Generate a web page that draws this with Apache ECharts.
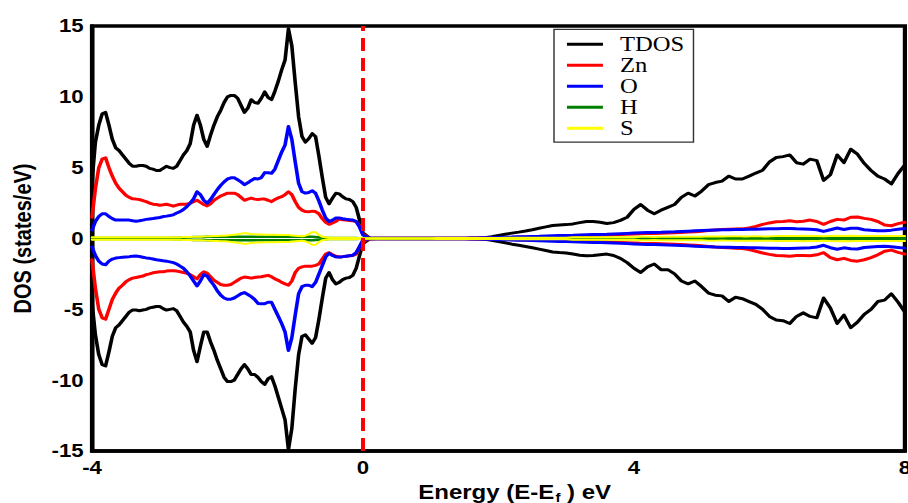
<!DOCTYPE html>
<html>
<head>
<meta charset="utf-8">
<script src="https://cdn.jsdelivr.net/npm/echarts/dist/echarts.min.js"></script>
<style>
  html, body { margin: 0; padding: 0; background: #fff; overflow: hidden; }
  #chart { position: absolute; left: 0; top: 0; height: 503px; transform-origin: 0 0; }
</style>
</head>
<body>
<div id="chart"></div>
<script>
// ---------------- data ----------------
const energies = [
  -4.00,-3.95,-3.90,-3.85,-3.80,-3.75,-3.70,-3.65,-3.60,-3.55,
  -3.50,-3.45,-3.40,-3.35,-3.30,-3.25,-3.20,-3.15,-3.10,-3.05,
  -3.00,-2.95,-2.90,-2.85,-2.80,-2.75,-2.70,-2.65,-2.60,-2.55,
  -2.50,-2.45,-2.40,-2.35,-2.30,-2.25,-2.20,-2.15,-2.10,-2.05,
  -2.00,-1.95,-1.90,-1.85,-1.80,-1.75,-1.70,-1.65,-1.60,-1.55,
  -1.50,-1.45,-1.40,-1.35,-1.30,-1.25,-1.20,-1.15,-1.10,-1.05,
  -1.00,-0.95,-0.90,-0.85,-0.80,-0.75,-0.70,-0.65,-0.60,-0.55,
  -0.50,-0.45,-0.40,-0.35,-0.30,-0.25,-0.20,-0.15,-0.10,-0.05,
  0.00,
  0.1,0.2,0.3,0.4,0.5,0.6,0.7,0.8,0.9,1.0,
  1.1,1.2,1.3,1.4,1.5,1.6,1.7,1.8,1.9,2.0,
  2.1,2.2,2.3,2.4,2.5,2.6,2.7,2.8,2.9,3.0,
  3.1,3.2,3.3,3.4,3.5,3.6,3.7,3.8,3.9,4.0,
  4.1,4.2,4.3,4.4,4.5,4.6,4.7,4.8,4.9,5.0,
  5.1,5.2,5.3,5.4,5.5,5.6,5.7,5.8,5.9,6.0,
  6.1,6.2,6.3,6.4,6.5,6.6,6.7,6.8,6.9,7.0,
  7.1,7.2,7.3,7.4,7.5,7.6,7.7,7.8,7.9,8.0
];

const tdosUp = [
  4.0,6.8,8.0,8.8,8.9,8.0,7.0,6.4,6.2,5.9,
  5.6,5.3,5.1,5.1,5.15,5.15,5.1,4.95,4.9,4.8,
  4.8,4.95,5.1,5.0,4.95,5.1,5.5,5.9,6.2,6.7,
  8.0,8.7,8.0,7.0,6.5,7.3,8.0,8.6,9.05,9.6,
  10.0,10.1,10.1,9.9,9.4,8.9,9.2,9.8,9.6,9.55,
  9.9,10.35,9.95,9.8,10.4,11.1,11.9,12.6,14.8,13.6,
  11.0,8.6,7.2,6.8,7.05,7.4,7.2,5.8,4.3,2.9,
  2.45,2.85,3.2,3.15,2.95,2.8,2.75,2.6,2.2,1.3,
  0.4,
  0.03,0.02,0.02,0.02,0.02,0.02,0.02,0.02,0.02,0.02,
  0.02,0.02,0.02,0.02,0.02,0.02,0.03,0.05,0.12,0.22,
  0.3,0.38,0.45,0.53,0.62,0.72,0.82,0.92,0.96,0.98,
  1.03,1.12,1.2,1.2,1.15,1.06,1.12,1.28,1.5,2.05,
  2.4,2.0,1.75,2.0,2.2,2.4,2.9,3.2,3.0,3.35,
  3.8,3.95,4.05,4.4,4.2,4.2,4.4,4.62,4.82,5.4,
  5.72,5.78,5.9,5.35,5.25,5.6,5.5,4.1,4.5,5.9,
  5.35,6.3,5.95,5.3,4.8,4.4,4.2,3.85,4.6,5.2
];
const tdosDown = [
  -4.5,-6.8,-8.2,-8.9,-9.0,-8.0,-6.9,-6.3,-6.1,-5.8,
  -5.5,-5.2,-5.05,-5.05,-5.1,-5.05,-5.0,-4.9,-4.85,-4.8,
  -4.8,-4.95,-5.05,-5.0,-4.95,-5.1,-5.5,-5.9,-6.2,-6.6,
  -7.9,-8.7,-7.6,-6.6,-6.6,-7.3,-7.9,-8.6,-9.2,-9.8,
  -10.1,-10.1,-10.0,-9.6,-9.2,-8.9,-9.2,-9.6,-9.6,-9.8,
  -10.1,-10.3,-9.9,-9.75,-10.4,-11.2,-12.0,-12.8,-14.9,-13.4,
  -10.6,-8.2,-6.9,-6.8,-7.1,-7.4,-7.0,-5.7,-4.2,-2.8,
  -2.4,-2.9,-3.2,-3.1,-2.9,-2.8,-2.75,-2.6,-2.1,-1.2,
  -0.35,
  -0.03,-0.02,-0.02,-0.02,-0.02,-0.02,-0.02,-0.02,-0.02,-0.02,
  -0.02,-0.02,-0.02,-0.02,-0.02,-0.02,-0.03,-0.06,-0.13,-0.22,
  -0.3,-0.4,-0.48,-0.56,-0.65,-0.75,-0.85,-0.95,-0.99,-1.02,
  -1.1,-1.18,-1.22,-1.2,-1.14,-1.1,-1.2,-1.4,-1.7,-2.1,
  -2.4,-2.0,-1.8,-2.2,-2.2,-2.5,-3.0,-3.2,-3.0,-3.4,
  -3.85,-4.0,-4.05,-4.45,-4.15,-4.25,-4.45,-4.65,-5.0,-5.5,
  -5.75,-5.8,-6.0,-5.5,-5.25,-5.5,-5.6,-4.2,-4.9,-6.0,
  -5.4,-6.3,-5.9,-5.35,-5.0,-4.45,-4.35,-3.9,-4.5,-5.2
];

const znUp = [
  1.5,3.5,5.0,5.6,5.7,5.0,4.4,3.9,3.55,3.3,
  3.05,2.9,2.8,2.78,2.75,2.68,2.6,2.5,2.42,2.4,
  2.35,2.38,2.42,2.35,2.28,2.35,2.42,2.42,2.42,2.5,
  2.6,2.7,2.55,2.4,2.3,2.45,2.7,2.85,3.0,3.1,
  3.2,3.2,3.2,3.1,2.9,2.7,2.78,2.85,2.78,2.75,
  2.78,2.78,2.7,2.6,2.75,2.87,2.95,3.1,3.3,3.1,
  2.6,2.2,2.0,1.9,1.88,1.93,1.9,1.75,1.4,1.15,
  1.0,1.1,1.2,1.38,1.32,1.3,1.27,1.25,1.2,0.9,
  0.3,
  0.02,0.02,0.02,0.02,0.02,0.02,0.02,0.02,0.02,0.02,
  0.02,0.02,0.02,0.02,0.02,0.03,0.03,0.04,0.05,0.05,
  0.06,0.08,0.09,0.1,0.11,0.12,0.13,0.15,0.16,0.17,
  0.18,0.2,0.21,0.22,0.23,0.24,0.26,0.28,0.3,0.32,
  0.34,0.35,0.36,0.37,0.38,0.4,0.42,0.45,0.48,0.52,
  0.56,0.6,0.63,0.65,0.67,0.68,0.75,0.85,1.0,1.1,
  1.18,1.2,1.25,1.18,1.22,1.3,1.2,1.0,1.2,1.35,
  1.3,1.5,1.52,1.42,1.35,1.2,0.95,0.9,1.05,1.15
];
const znDown = [
  -1.5,-3.5,-5.0,-5.6,-5.7,-5.0,-4.3,-3.85,-3.5,-3.3,
  -3.05,-2.9,-2.8,-2.75,-2.7,-2.65,-2.55,-2.5,-2.42,-2.38,
  -2.35,-2.35,-2.3,-2.28,-2.28,-2.3,-2.35,-2.4,-2.45,-2.55,
  -2.7,-2.85,-2.55,-2.35,-2.45,-2.7,-2.95,-3.1,-3.25,-3.3,
  -3.3,-3.25,-3.1,-2.95,-2.8,-2.72,-2.75,-2.8,-2.75,-2.72,
  -2.7,-2.65,-2.6,-2.7,-2.85,-2.95,-3.1,-3.2,-3.3,-3.0,
  -2.4,-2.1,-2.0,-1.95,-1.95,-1.95,-1.9,-1.8,-1.45,-1.1,
  -1.0,-1.15,-1.25,-1.3,-1.28,-1.25,-1.22,-1.2,-1.1,-0.6,
  -0.2,
  -0.02,-0.02,-0.02,-0.02,-0.02,-0.02,-0.02,-0.02,-0.02,-0.02,
  -0.02,-0.02,-0.02,-0.02,-0.02,-0.03,-0.03,-0.04,-0.05,-0.05,
  -0.06,-0.08,-0.09,-0.1,-0.11,-0.12,-0.13,-0.15,-0.16,-0.17,
  -0.18,-0.2,-0.21,-0.22,-0.23,-0.24,-0.26,-0.28,-0.3,-0.32,
  -0.34,-0.35,-0.36,-0.37,-0.38,-0.4,-0.42,-0.45,-0.48,-0.52,
  -0.56,-0.6,-0.63,-0.65,-0.68,-0.7,-0.78,-0.9,-1.02,-1.12,
  -1.2,-1.22,-1.25,-1.2,-1.2,-1.22,-1.15,-1.0,-1.35,-1.5,
  -1.4,-1.55,-1.6,-1.5,-1.35,-1.15,-0.9,-0.82,-0.98,-1.1
];

const oUp = [
  0.6,1.2,1.55,1.75,1.75,1.55,1.4,1.3,1.3,1.3,
  1.3,1.3,1.25,1.22,1.25,1.3,1.35,1.38,1.41,1.45,
  1.48,1.55,1.58,1.62,1.67,1.8,1.9,2.05,2.25,2.5,
  2.8,3.3,3.1,2.7,2.5,2.75,3.1,3.45,3.75,4.0,
  4.2,4.28,4.28,4.15,4.0,3.8,3.93,4.1,4.24,4.2,
  4.3,4.65,4.64,4.6,4.9,5.5,6.1,6.6,7.9,7.0,
  5.4,3.9,3.3,3.2,3.25,3.37,3.2,2.65,2.0,1.45,
  1.2,1.3,1.45,1.45,1.4,1.36,1.33,1.3,1.2,0.8,
  0.25,
  0.01,0.01,0.01,0.01,0.01,0.01,0.01,0.01,0.01,0.01,
  0.01,0.01,0.01,0.01,0.02,0.03,0.04,0.05,0.06,0.08,
  0.09,0.1,0.12,0.13,0.15,0.16,0.18,0.2,0.21,0.22,
  0.23,0.25,0.27,0.28,0.29,0.3,0.32,0.34,0.36,0.38,
  0.4,0.42,0.43,0.44,0.46,0.47,0.5,0.52,0.54,0.56,
  0.58,0.6,0.61,0.62,0.63,0.64,0.65,0.66,0.67,0.68,
  0.69,0.7,0.7,0.68,0.67,0.66,0.62,0.5,0.62,0.74,
  0.64,0.72,0.72,0.62,0.58,0.55,0.54,0.59,0.65,0.7
];
const oDown = [
  -0.6,-1.2,-1.6,-1.8,-1.85,-1.6,-1.45,-1.38,-1.35,-1.32,
  -1.3,-1.28,-1.25,-1.24,-1.27,-1.32,-1.37,-1.4,-1.45,-1.5,
  -1.53,-1.57,-1.6,-1.65,-1.7,-1.8,-1.95,-2.1,-2.35,-2.65,
  -3.0,-3.35,-3.0,-2.55,-2.65,-3.0,-3.3,-3.7,-4.0,-4.2,
  -4.29,-4.28,-4.2,-4.05,-3.9,-3.82,-3.95,-4.1,-4.3,-4.58,
  -4.6,-4.6,-4.5,-4.5,-5.0,-5.5,-6.0,-6.6,-7.9,-7.0,
  -5.4,-3.9,-3.4,-3.3,-3.3,-3.4,-3.1,-2.5,-1.9,-1.3,
  -1.05,-1.2,-1.3,-1.3,-1.28,-1.25,-1.22,-1.18,-1.0,-0.55,
  -0.1,
  -0.01,-0.01,-0.01,-0.01,-0.01,-0.01,-0.01,-0.01,-0.01,-0.01,
  -0.01,-0.01,-0.01,-0.01,-0.02,-0.03,-0.04,-0.05,-0.06,-0.08,
  -0.09,-0.1,-0.12,-0.13,-0.15,-0.16,-0.18,-0.2,-0.21,-0.22,
  -0.23,-0.25,-0.27,-0.28,-0.29,-0.3,-0.32,-0.34,-0.36,-0.38,
  -0.4,-0.42,-0.43,-0.44,-0.46,-0.47,-0.5,-0.52,-0.54,-0.56,
  -0.58,-0.6,-0.61,-0.62,-0.63,-0.64,-0.65,-0.66,-0.67,-0.68,
  -0.69,-0.7,-0.7,-0.68,-0.67,-0.66,-0.6,-0.48,-0.65,-0.76,
  -0.66,-0.72,-0.74,-0.64,-0.6,-0.56,-0.55,-0.58,-0.63,-0.68
];

const hUp = [
  0.03,0.03,0.03,0.03,0.03,0.03,0.03,0.03,0.03,0.03,
  0.03,0.03,0.03,0.03,0.03,0.03,0.03,0.03,0.03,0.03,
  0.03,0.03,0.04,0.04,0.05,0.05,0.06,0.07,0.08,0.09,
  0.1,0.11,0.11,0.11,0.12,0.12,0.12,0.12,0.13,0.13,
  0.13,0.13,0.13,0.13,0.13,0.13,0.13,0.13,0.13,0.13,
  0.13,0.13,0.13,0.13,0.13,0.13,0.13,0.13,0.13,0.13,
  0.12,0.12,0.12,0.12,0.12,0.12,0.1,0.08,0.06,0.05,
  0.04,0.04,0.04,0.04,0.04,0.04,0.04,0.04,0.03,0.02,
  0.01,
  0.01,0.01,0.01,0.01,0.01,0.01,0.01,0.01,0.01,0.01,
  0.01,0.01,0.01,0.01,0.01,0.01,0.01,0.01,0.01,0.01,
  0.02,0.02,0.02,0.02,0.02,0.02,0.02,0.02,0.02,0.02,
  0.03,0.03,0.03,0.03,0.03,0.03,0.03,0.03,0.03,0.03,
  0.04,0.04,0.04,0.04,0.04,0.04,0.04,0.04,0.04,0.04,
  0.05,0.05,0.05,0.05,0.05,0.05,0.05,0.05,0.05,0.05,
  0.06,0.06,0.06,0.06,0.06,0.06,0.06,0.06,0.06,0.06,
  0.06,0.06,0.06,0.06,0.06,0.06,0.06,0.06,0.06,0.06
];
const hDown = [
  -0.03,-0.03,-0.03,-0.03,-0.03,-0.03,-0.03,-0.03,-0.03,-0.03,
  -0.03,-0.03,-0.03,-0.03,-0.03,-0.03,-0.03,-0.03,-0.03,-0.03,
  -0.03,-0.03,-0.04,-0.04,-0.05,-0.05,-0.06,-0.07,-0.08,-0.09,
  -0.1,-0.11,-0.11,-0.11,-0.12,-0.12,-0.12,-0.12,-0.13,-0.13,
  -0.13,-0.13,-0.13,-0.13,-0.13,-0.13,-0.13,-0.13,-0.13,-0.13,
  -0.13,-0.13,-0.13,-0.13,-0.13,-0.13,-0.13,-0.13,-0.13,-0.13,
  -0.12,-0.12,-0.12,-0.12,-0.12,-0.12,-0.1,-0.08,-0.06,-0.05,
  -0.04,-0.04,-0.04,-0.04,-0.04,-0.04,-0.04,-0.04,-0.03,-0.02,
  -0.01,
  -0.01,-0.01,-0.01,-0.01,-0.01,-0.01,-0.01,-0.01,-0.01,-0.01,
  -0.01,-0.01,-0.01,-0.01,-0.01,-0.01,-0.01,-0.01,-0.01,-0.01,
  -0.02,-0.02,-0.02,-0.02,-0.02,-0.02,-0.02,-0.02,-0.02,-0.02,
  -0.03,-0.03,-0.03,-0.03,-0.03,-0.03,-0.03,-0.03,-0.03,-0.03,
  -0.04,-0.04,-0.04,-0.04,-0.04,-0.04,-0.04,-0.04,-0.04,-0.04,
  -0.05,-0.05,-0.05,-0.05,-0.05,-0.05,-0.05,-0.05,-0.05,-0.05,
  -0.06,-0.06,-0.06,-0.06,-0.06,-0.06,-0.06,-0.06,-0.06,-0.06,
  -0.06,-0.06,-0.06,-0.06,-0.06,-0.06,-0.06,-0.06,-0.06,-0.06
];

const sUp = [
  0.08,0.08,0.08,0.08,0.08,0.08,0.08,0.08,0.08,0.08,
  0.08,0.08,0.08,0.08,0.08,0.08,0.08,0.08,0.08,0.08,
  0.08,0.08,0.08,0.08,0.08,0.09,0.09,0.1,0.1,0.11,
  0.12,0.12,0.13,0.14,0.15,0.16,0.17,0.18,0.19,0.2,
  0.22,0.24,0.26,0.3,0.34,0.38,0.36,0.32,0.3,0.28,
  0.28,0.27,0.27,0.26,0.26,0.25,0.25,0.24,0.24,0.22,
  0.2,0.18,0.16,0.2,0.3,0.45,0.44,0.25,0.12,0.08,
  0.06,0.05,0.05,0.05,0.05,0.05,0.05,0.05,0.04,0.03,
  0.02,
  0.02,0.02,0.02,0.02,0.02,0.02,0.02,0.02,0.02,0.02,
  0.03,0.03,0.03,0.03,0.03,0.03,0.03,0.03,0.03,0.03,
  0.05,0.05,0.05,0.05,0.05,0.05,0.05,0.05,0.05,0.05,
  0.08,0.08,0.08,0.08,0.08,0.08,0.08,0.08,0.08,0.08,
  0.12,0.12,0.11,0.12,0.13,0.12,0.12,0.13,0.12,0.12,
  0.15,0.15,0.14,0.15,0.16,0.15,0.15,0.16,0.15,0.15,
  0.18,0.18,0.17,0.18,0.19,0.18,0.18,0.16,0.18,0.19,
  0.18,0.19,0.18,0.17,0.18,0.18,0.17,0.17,0.18,0.18
];
const sDown = [
  -0.08,-0.08,-0.08,-0.08,-0.08,-0.08,-0.08,-0.08,-0.08,-0.08,
  -0.08,-0.08,-0.08,-0.08,-0.08,-0.08,-0.08,-0.08,-0.08,-0.08,
  -0.08,-0.08,-0.08,-0.08,-0.08,-0.09,-0.09,-0.1,-0.1,-0.11,
  -0.12,-0.12,-0.13,-0.14,-0.15,-0.16,-0.17,-0.18,-0.19,-0.2,
  -0.22,-0.24,-0.26,-0.3,-0.34,-0.38,-0.36,-0.32,-0.3,-0.28,
  -0.28,-0.27,-0.27,-0.26,-0.26,-0.25,-0.25,-0.24,-0.24,-0.22,
  -0.2,-0.18,-0.16,-0.2,-0.3,-0.45,-0.44,-0.25,-0.12,-0.08,
  -0.06,-0.05,-0.05,-0.05,-0.05,-0.05,-0.05,-0.05,-0.04,-0.03,
  -0.02,
  -0.02,-0.02,-0.02,-0.02,-0.02,-0.02,-0.02,-0.02,-0.02,-0.02,
  -0.03,-0.03,-0.03,-0.03,-0.03,-0.03,-0.03,-0.03,-0.03,-0.03,
  -0.05,-0.05,-0.05,-0.05,-0.05,-0.05,-0.05,-0.05,-0.05,-0.05,
  -0.08,-0.08,-0.08,-0.08,-0.08,-0.08,-0.08,-0.08,-0.08,-0.08,
  -0.12,-0.12,-0.11,-0.12,-0.13,-0.12,-0.12,-0.13,-0.12,-0.12,
  -0.15,-0.15,-0.14,-0.15,-0.16,-0.15,-0.15,-0.16,-0.15,-0.15,
  -0.18,-0.18,-0.17,-0.18,-0.19,-0.18,-0.18,-0.16,-0.18,-0.19,
  -0.18,-0.19,-0.18,-0.17,-0.18,-0.18,-0.17,-0.17,-0.18,-0.18
];

const legendNames = ['TDOS', 'Zn', 'O', 'H', 'S'];
const xTicks = [-4, 0, 4, 8];
const yTicks = [-15, -10, -5, 0, 5, 10, 15];
const fermiLevel = 0;

// ---------------- chart ----------------
const S = 1.2;               // horizontal stretch of the reference picture
const W = 908 / S;
const dom = document.getElementById('chart');
dom.style.width = W + 'px';
dom.style.transform = 'scaleX(' + S + ')';

const sansBold = { fontFamily: 'Liberation Sans, Arial, sans-serif', fontWeight: 'bold', color: '#000' };

const defs = [
  { name: 'TDOS', color: '#000000', width: 3, up: tdosUp, down: tdosDown },
  { name: 'Zn',   color: '#ff0000', width: 3, up: znUp,   down: znDown },
  { name: 'O',    color: '#0000ff', width: 3, up: oUp,    down: oDown },
  { name: 'H',    color: '#008000', width: 2.5, up: hUp,  down: hDown },
  { name: 'S',    color: '#ffff00', width: 2, up: sUp,  down: sDown }
];

const series = [];
defs.forEach(d => {
  [d.up, d.down].forEach(arr => {
    series.push({
      name: d.name,
      type: 'line',
      data: energies.map((e, i) => [e, arr[i]]),
      showSymbol: false,
      symbol: 'none',
      color: d.color,
      itemStyle: { color: d.color },
      lineStyle: { color: d.color, width: d.width, join: 'round', cap: 'round' },
      emphasis: { disabled: true },
      animation: false
    });
  });
});
series[series.length - 1].markLine = {
  silent: true,
  symbol: ['none', 'none'],
  label: { show: false },
  lineStyle: { color: '#ff0000', width: 3.3, type: [13, 7] },
  data: [{ xAxis: fermiLevel }],
  animation: false
};

const chart = echarts.init(dom, null, { renderer: 'svg' });
chart.setOption({
  backgroundColor: '#ffffff',
  animation: false,
  grid: {
    left: 92 / S, right: 3.5 / S, top: 26, bottom: 52,
    containLabel: false,
    outerBoundsMode: 'none',
    show: true, borderColor: '#000', borderWidth: 3.5, backgroundColor: 'transparent'
  },
  legend: {
    data: legendNames,
    orient: 'vertical',
    left: 554 / S,
    top: 29.3,
    padding: [4.5, 7.7, 3.3, 10.8],
    itemWidth: 30,
    itemHeight: 3,
    itemGap: 0,
    icon: 'rect',
    borderColor: '#333',
    borderWidth: 1.2,
    backgroundColor: '#fff',
    selectedMode: false,
    textStyle: {
      fontFamily: 'Liberation Serif, Times New Roman, serif',
      fontSize: 20.5, color: '#000', lineHeight: 20.5, padding: [0, 0, 0, 9.2]
    }
  },
  xAxis: {
    type: 'value',
    min: xTicks[0], max: xTicks[xTicks.length - 1], interval: 4,
    axisLine: { onZero: false, lineStyle: { color: '#000', width: 3.5 } },
    axisTick: { show: false },
    splitLine: { show: false },
    axisLabel: Object.assign({ fontSize: 18.5, margin: 7 }, sansBold),
    name: '{a|Energy (E-E}{s|f}{a| ) eV}',
    nameLocation: 'middle',
    nameGap: 31,
    nameTextStyle: Object.assign({
      fontSize: 20,
      padding: [0, 0, 0, 27],
      rich: {
        a: Object.assign({ fontSize: 20, lineHeight: 20, verticalAlign: 'top' }, sansBold),
        s: Object.assign({ fontSize: 12.5, lineHeight: 13, padding: [9, 0, 0, 1], verticalAlign: 'top' }, sansBold)
      }
    }, sansBold)
  },
  yAxis: {
    type: 'value',
    min: yTicks[0], max: yTicks[yTicks.length - 1], interval: 5,
    axisLine: { onZero: false, lineStyle: { color: '#000', width: 3.5 } },
    axisTick: { show: false },
    splitLine: { show: false },
    axisLabel: Object.assign({ fontSize: 18.5, margin: 7 }, sansBold),
    name: 'DOS (states/eV)',
    nameLocation: 'middle',
    nameGap: 48,
    nameTextStyle: Object.assign({ fontSize: 20, lineHeight: 20 }, sansBold)
  },
  series: series
});
</script>
</body>
</html>
